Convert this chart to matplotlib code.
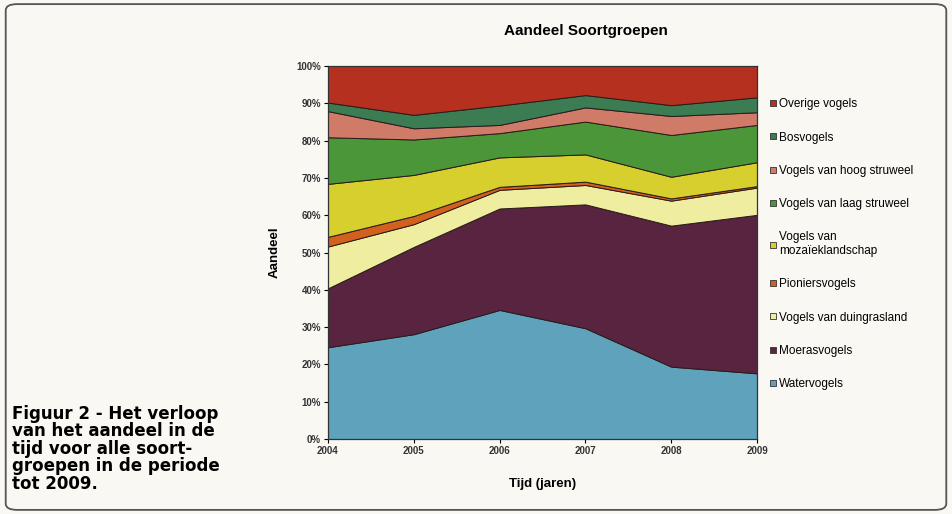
import numpy as np
import matplotlib
matplotlib.use("Agg")
from matplotlib import pyplot as plt
from matplotlib.patches import FancyBboxPatch
from matplotlib.lines import Line2D

plt.rcParams["font.family"] = ["Liberation Sans", "DejaVu Sans"]

# Data: share (%) per species group
years       = [2004, 2005, 2006, 2007, 2008, 2009]
water       = [24.6, 28.1, 34.6, 29.7, 19.4, 17.6]
moeras      = [15.8, 23.4, 27.2, 33.2, 37.8, 42.5]
duingras    = [11.2,  6.1,  5.0,  5.2,  6.7,  7.3]
pionier     = [ 2.6,  2.2,  0.8,  0.9,  0.6,  0.4]
mozaiek     = [14.2, 11.0,  7.9,  7.3,  5.8,  6.4]
laag        = [12.5,  9.5,  6.5,  8.8, 11.2, 10.0]
hoog        = [ 7.0,  3.0,  2.2,  3.8,  5.1,  3.4]
bos         = [ 2.3,  3.6,  5.2,  3.3,  2.9,  4.0]
overig      = [ 9.8, 13.1, 10.6,  7.8, 10.5,  8.4]

series = [water, moeras, duingras, pionier, mozaiek, laag, hoog, bos, overig]
labels = ["Watervogels", "Moerasvogels", "Vogels van duingrasland", "Pioniersvogels",
          "Vogels van\nmozaïeklandschap", "Vogels van laag struweel",
          "Vogels van hoog struweel", "Bosvogels", "Overige vogels"]
colors = ["#5ea3bb", "#582440", "#eeeda0", "#d2601e", "#d6cf2e",
          "#4a9638", "#d07a68", "#3b7c52", "#b5301e"]

bg = "#f9f8f3"
fig = plt.figure(figsize=(9.52, 5.14), dpi=100, facecolor=bg)

# rounded frame around everything
frame = FancyBboxPatch((0.006, 0.008), 0.988, 0.984, boxstyle="round,pad=0,rounding_size=0.012",
                       transform=fig.transFigure, fill=False, edgecolor="#555555", lw=1.3)
fig.patches.append(frame)

ax = fig.add_axes([0.3445, 0.1459, 0.4507, 0.7257])
ax.set_facecolor(bg)

data = np.array(series)
total = data.sum(axis=0)
data = data / total * 100
ax.stackplot(years, data, colors=colors, edgecolor="#2a1a1a", linewidth=0.7)

ax.set_xlim(2004, 2009)
ax.set_ylim(0, 100)
ax.set_xticks(years)
ax.set_xticklabels([str(y) for y in years], fontsize=7, fontweight="bold", color="#333333")
ax.set_yticks(np.arange(0, 101, 10))
ax.set_yticklabels([f"{v}%" for v in range(0, 101, 10)], fontsize=7, fontweight="bold", color="#333333")
ax.tick_params(direction="out", length=3, width=0.8, pad=2)
for s in ax.spines.values():
    s.set_color("#333333")
    s.set_linewidth(0.9)

ax.set_ylabel("Aandeel", fontsize=9.5, fontweight="bold", labelpad=11)
ax.set_xlabel("Tijd (jaren)", fontsize=9.5, fontweight="bold", labelpad=16)
fig.text(0.616, 0.94, "Aandeel Soortgroepen", ha="center", va="center",
         fontsize=11, fontweight="bold")

handles = [Line2D([], [], marker="s", linestyle="none", markersize=4.5,
                  markerfacecolor=c, markeredgecolor="#333333", markeredgewidth=0.6)
           for c in colors]
leg = fig.legend(handles[::-1], labels[::-1], loc="upper left",
                 bbox_to_anchor=(0.802, 0.818), frameon=False, fontsize=8.5,
                 labelspacing=1.8, handletextpad=0.1, handlelength=0.8,
                 borderaxespad=0)

caption = "Figuur 2 - Het verloop\nvan het aandeel in de\ntijd voor alle soort-\ngroepen in de periode\ntot 2009."
fig.text(0.0125, 0.212, caption, ha="left", va="top", fontsize=12,
         fontweight="bold", family="DejaVu Sans", linespacing=0.96)

fig.savefig("out.png", dpi=100, facecolor=bg)
